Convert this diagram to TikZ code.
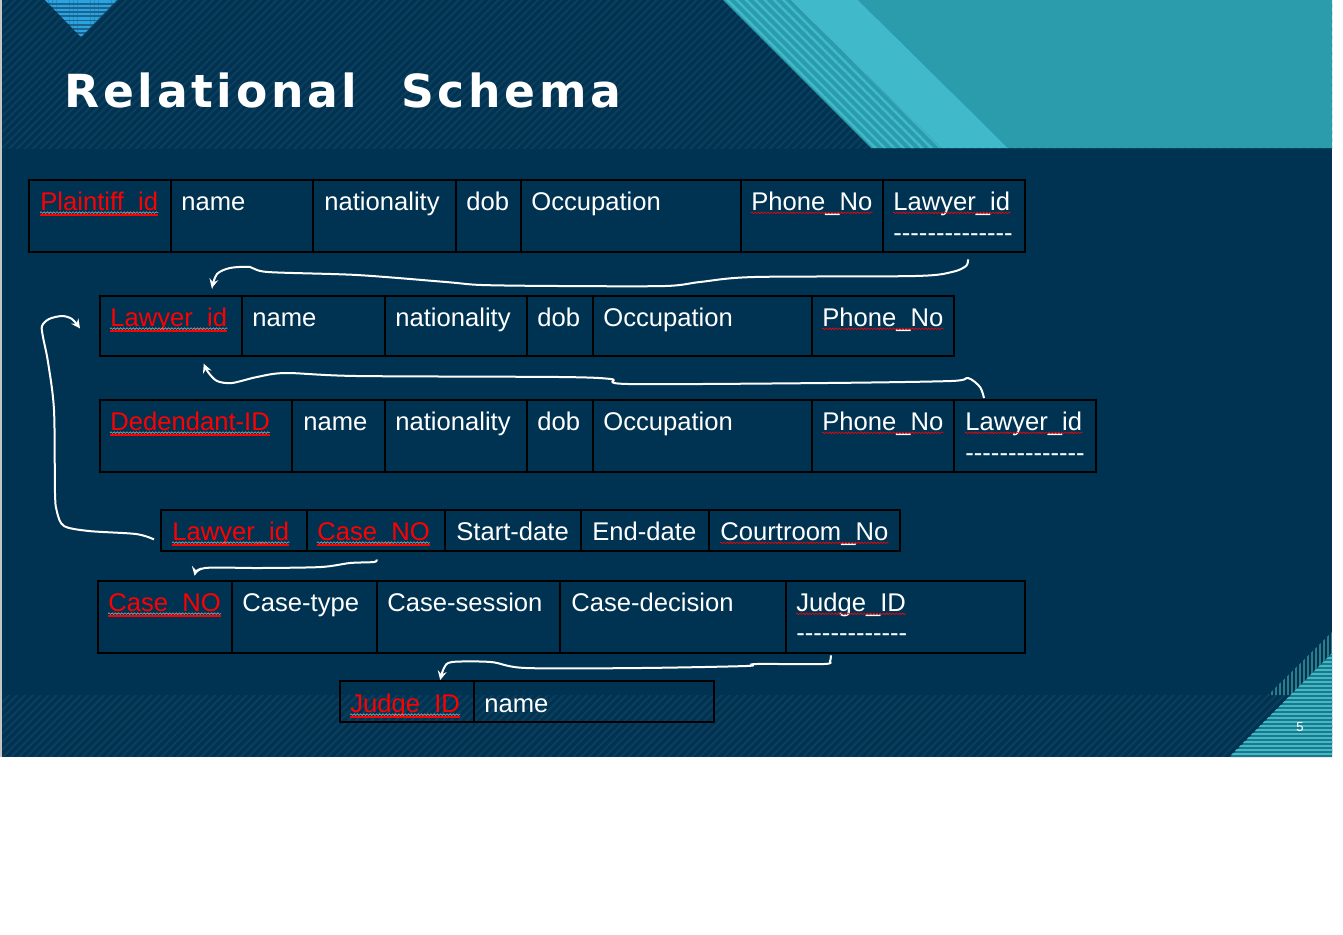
\documentclass[tikz,border=0pt]{standalone}
\usepackage{fontspec}
\usetikzlibrary{patterns.meta,decorations.pathmorphing}
\newfontfamily\cellfont{Liberation Sans}
\newfontfamily\titlefont{DejaVu Sans}[LetterSpace=8]
\definecolor{navy}{RGB}{0,51,82}
\definecolor{navyline}{RGB}{13,63,93}
\definecolor{slideteal}{RGB}{42,156,172}
\definecolor{lightteal}{RGB}{64,186,202}
\definecolor{darkteal}{RGB}{30,120,134}
\definecolor{stripeteal}{RGB}{43,125,138}
\definecolor{skyblue}{RGB}{41,163,226}
\definecolor{triblue}{RGB}{28,100,140}
\newcommand\dashfill[1]{\foreach\i in {1,...,#1}{-\kern0pt}}
\tikzset{
  attr/.style={inner sep=0pt, anchor=base west, text=white, font=\cellfont\fontsize{12.8pt}{15pt}\selectfont},
  squig/.style={draw=#1, line width=0.3pt, decorate, decoration={snake, amplitude=0.4pt, segment length=1.6pt}},
  spell/.style={attr, append after command={([yshift=-1.4pt]\tikzlastnode.base west) edge[squig=red] ([yshift=-1.4pt]\tikzlastnode.base east)}},
  pk/.style={attr, text=red, append after command={([yshift=-1.3pt]\tikzlastnode.base west) edge[squig=gray!70] ([yshift=-1.3pt]\tikzlastnode.base east)
    ([yshift=-2.4pt]\tikzlastnode.base west) edge[draw=red, line width=0.9pt] ([yshift=-2.4pt]\tikzlastnode.base east)}},
  grid/.style={draw=black, line width=1pt},
  link/.style={->, >=stealth, draw=white, line width=1pt},
}
\begin{document}
\begin{tikzpicture}[x=0.5pt,y=-0.5pt]
	\useasboundingbox (0,0) rectangle (1343,934);
	% slide background
	\fill[white] (0,0) rectangle (1343,934);
	\fill[navy] (0,0) rectangle (1332,757);
	\fill[pattern={Lines[angle=45,distance=2.8pt,line width=1pt]}, pattern color=navyline] (2,0) rectangle (1332,148);
	\fill[pattern={Lines[angle=45,distance=2.8pt,line width=1pt]}, pattern color=navyline] (2,695) rectangle (1332,756);
	\fill[gray!45] (0,0) rectangle (2,757);
	\fill[triblue] (45,0) -- (117,0) -- (81,37) -- cycle;
	\fill[pattern={Lines[angle=0,distance=2.1pt,line width=1.2pt]}, pattern color=skyblue] (45,0) -- (117,0) -- (81,37) -- cycle;
	\fill[slideteal] (858,0) -- (1332,0) -- (1332,148) -- (1008,148) -- cycle;
	\fill[lightteal] (790,0) -- (858,0) -- (1008,148) -- (941,148) -- cycle;
	\fill[slideteal] (723,0) -- (790,0) -- (941,148) -- (871,148) -- cycle;
	\fill[pattern={Lines[angle=-45,distance=3.3pt,line width=1.2pt]}, pattern color=lightteal] (723,0) -- (790,0) -- (941,148) -- (871,148) -- cycle;
	\fill[pattern={Lines[angle=90,distance=2pt,line width=0.8pt]}, pattern color=stripeteal] (1268,695) -- (1332,632) -- (1332,653) -- (1291,695) -- cycle;
	\fill[darkteal] (1230,757) -- (1332,653) -- (1332,757) -- cycle;
	\fill[pattern={Lines[angle=0,distance=2pt,line width=1.2pt]}, pattern color=lightteal] (1230,756) -- (1332,653) -- (1332,756) -- cycle;
	\node[text=white, font=\cellfont\fontsize{6.5pt}{7pt}\selectfont] (page) at (1300,727) {5};

	\node[anchor=base west, inner sep=0pt, text=white, font=\titlefont\bfseries\fontsize{22.8pt}{27pt}\selectfont] (title) at (64,107) {Relational\hspace{22pt}Schema};

	% plaintiff
	\draw[grid] (29,180) rectangle (1025,252) (171,180) -- (171,252) (313,180) -- (313,252) (456,180) -- (456,252)
		(521,180) -- (521,252) (741,180) -- (741,252) (883,180) -- (883,252);
	\node[pk](plId) at (40,210) {Plaintiff\_id};
	\node[attr](plName) at (181,210) {name};
	\node[attr](plNat) at (324,210) {nationality};
	\node[attr](plDob) at (466,210) {dob};
	\node[attr](plOcc) at (531,210) {Occupation};
	\node[spell](plPhone) at (751,210) {Phone\_No};
	\node[spell](plLaw) at (893,210) {Lawyer\_id};
	\node[attr](plDash) at (893,241) {\dashfill{14}};

	% lawyer
	\draw[grid] (100,296) rectangle (954,356) (242,296) -- (242,356) (385,296) -- (385,356) (527,296) -- (527,356)
		(593,296) -- (593,356) (812,296) -- (812,356);
	\node[pk](lwId) at (110,326) {Lawyer\_id};
	\node[attr](lwName) at (252,326) {name};
	\node[attr](lwNat) at (395,326) {nationality};
	\node[attr](lwDob) at (537,326) {dob};
	\node[attr](lwOcc) at (603,326) {Occupation};
	\node[spell](lwPhone) at (822,326) {Phone\_No};

	% defendant
	\draw[grid] (100,400) rectangle (1096,472) (292,400) -- (292,472) (385,400) -- (385,472) (527,400) -- (527,472)
		(593,400) -- (593,472) (812,400) -- (812,472) (954,400) -- (954,472);
	\node[pk](dfId) at (110,430) {Dedendant-ID};
	\node[attr](dfName) at (303,430) {name};
	\node[attr](dfNat) at (395,430) {nationality};
	\node[attr](dfDob) at (537,430) {dob};
	\node[attr](dfOcc) at (603,430) {Occupation};
	\node[spell](dfPhone) at (822,430) {Phone\_No};
	\node[spell](dfLaw) at (965,430) {Lawyer\_id};
	\node[attr](dfDash) at (965,461) {\dashfill{14}};

	% hearing
	\draw[grid] (161,510) rectangle (900,551) (307,510) -- (307,551) (445,510) -- (445,551) (581,510) -- (581,551)
		(709,510) -- (709,551);
	\node[pk](hrLaw) at (172,540) {Lawyer\_id};
	\node[pk](hrCase) at (317,540) {Case\_NO};
	\node[attr](hrStart) at (456,540) {Start-date};
	\node[attr](hrEnd) at (592,540) {End-date};
	\node[spell](hrRoom) at (720,540) {Courtroom\_No};

	% case
	\draw[grid] (98,581) rectangle (1025,653) (232,581) -- (232,653) (377,581) -- (377,653) (560,581) -- (560,653)
		(786,581) -- (786,653);
	\node[pk](csId) at (108,611) {Case\_NO};
	\node[attr](csType) at (242,611) {Case-type};
	\node[attr](csSess) at (387,611) {Case-session};
	\node[attr](csDec) at (571,611) {Case-decision};
	\node[spell](csJud) at (796,611) {Judge\_ID};
	\node[attr](csDash) at (796,641) {\dashfill{13}};

	% judge
	\draw[grid] (340,681) rectangle (714,722) (474,681) -- (474,722);
	\node[pk](jdId) at (350,712) {Judge\_ID};
	\node[attr](jdName) at (484,712) {name};

	% foreign keys
	\draw[link] plot[smooth, tension=.5] coordinates {([shift={(15,18)}]plDash.south) (966,266) (952,272) (915,276) (754,277)
		(700,282) (665,286) (560,286) (482,285) (446,282) (357,275) (268,272) (250,267) (230,268) (217,274) ([shift={(43,-19)}]lwId.north)};
	\draw[link] plot[smooth, tension=.5] coordinates {([shift={(19,-13)}]dfLaw.north west) (980,387) (968,378) (951,381) (826,383)
		(629,384) (611,379) (560,377) (357,376) (286,373) (257,377) (232,383) (217,381) (208,372) ([shift={(35,32)}]lwId.south)};
	\draw[link] plot[smooth, tension=.5] coordinates {([shift={(-18,6)}]hrLaw.west) (136,534) (89,531) (64,526) (57,512) (55,493)
		(54,410) (48,362) (43,337) (42,326) (49,319) (62,316) (72,319) ([shift={(-30,9)}]lwId.west)};
	\draw[link] plot[smooth, tension=.5] coordinates {([shift={(3,14)}]hrCase.south) (374,562) (350,563) (321,567) (260,568)
		(205,568) ([shift={(30,-17)}]csId.north)};
	\draw[link] plot[smooth, tension=.5] coordinates {([shift={(-21,14)}]csDash.south) (830,661) (824,664) (756,664) (746,666)
		(640,668) (526,668) (491,662) (452,662) (444,668) ([shift={(35,-13)}]jdId.north)};
\end{tikzpicture}
\end{document}
